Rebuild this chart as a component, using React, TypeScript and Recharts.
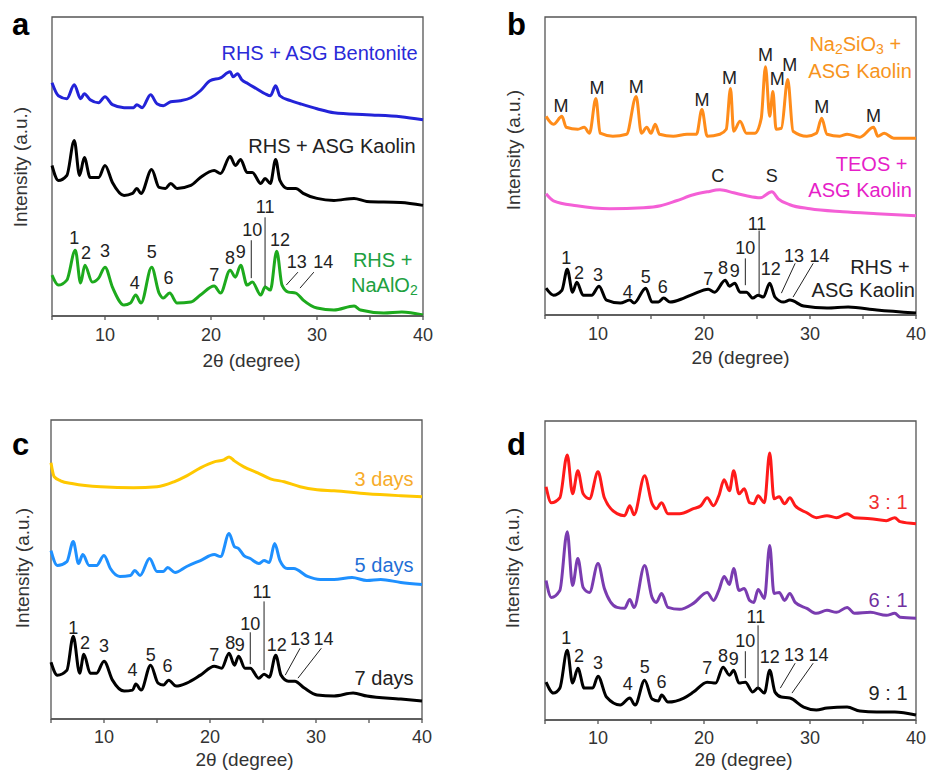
import React from 'react';
import { ComposedChart, Line, Scatter, XAxis, YAxis, ReferenceLine, ReferenceArea, Customized } from 'recharts';

const FONT = 'Arial, "Liberation Sans", sans-serif';
const xTicks = [5, 10, 15, 20, 25, 30, 35, 40];

// ---- panel a : [2theta, intensity (offset)]
const aBentonite = [
  [5, 234], [5.6, 221], [6.4, 218], [7.1, 232], [7.7, 218], [8.05, 223], [8.6, 217], [9.4, 214], [10, 220],
  [10.7, 212], [11.8, 209], [12.7, 209], [13, 212], [13.5, 209], [14.3, 222], [14.9, 213], [15.5, 211],
  [16.2, 215], [17.1, 216], [18.1, 219], [19, 226], [19.9, 236], [20.9, 239], [21.8, 245], [22.1, 240],
  [22.5, 243], [22.9, 237], [23.5, 233], [24.3, 228], [25.1, 223], [25.6, 221], [26.1, 231], [26.5, 221],
  [27.5, 216], [28.4, 213], [30, 208], [31.6, 204], [34.7, 202], [37.9, 200], [40, 197],
];
const aKaolin = [
  [5, 151], [5.6, 136], [6.4, 141], [7.1, 176], [7.6, 141], [8.05, 159], [8.6, 139], [9.4, 139], [10, 151],
  [10.7, 134], [11.8, 121], [12.6, 123], [13, 128], [13.4, 123], [14.4, 147], [15.1, 129], [15.7, 128],
  [16.2, 133], [16.8, 128], [18.1, 131], [19, 139], [20.3, 146], [20.9, 143], [21.8, 160], [22.3, 151],
  [22.8, 157], [23.4, 144], [23.9, 144], [24.7, 133], [25.1, 138], [25.6, 133], [26.1, 157], [26.5, 136],
  [27.2, 128], [28, 128], [28.7, 123], [30, 118], [31.6, 116], [33.5, 118], [34.7, 115], [37.9, 114], [40, 111],
];
const aNaAlO2 = [
  [5, 41], [5.6, 31], [6.4, 36], [7.2, 66], [7.7, 33], [8.1, 51], [8.8, 34], [9.4, 38], [10, 49], [10.7, 29],
  [11.8, 11], [12.4, 13], [12.9, 21], [13.4, 13], [14.4, 49], [15.1, 23], [15.5, 18], [16.1, 23], [16.8, 13],
  [18.1, 14], [19, 21], [20.3, 30], [20.9, 23], [21.8, 46], [22.3, 39], [22.8, 51], [23.4, 31], [23.9, 34],
  [24.7, 21], [25.1, 29], [25.6, 26], [26.2, 65], [26.7, 31], [27.3, 24], [28, 23], [28.7, 16], [30, 8],
  [31.6, 6], [33.5, 10], [34.1, 6], [36.3, 3], [38, 4], [40, 1],
];
const aPeaks = [
  [7.1, 78, '1'], [8.2, 63, '2'], [10, 65, '3'], [12.8, 33, '4'], [14.4, 64, '5'], [16, 38, '6'], [20.3, 41, '7'],
  [21.8, 58, '8'], [22.8, 64, '9'], [23.9, 86, '10'], [25.1, 109, '11'], [26.5, 76, '12'], [28.1, 54, '13'], [30.6, 54, '14'],
];
const aLeaders = [
  [23.8, 76, 23.8, 38], [25.1, 99, 25.1, 30], [28.2, 44, 27.1, 31], [29.7, 44, 28.4, 28],
];
const aNames = [
  [39.5, 264, 'RHS + ASG Bentonite', '#2a2ad8'],
  [39.3, 171, 'RHS + ASG Kaolin', '#222222'],
  [39.0, 56, 'RHS +', '#20a040'],
  [39.5, 31, 'NaAlO{2}', '#20a040'],
];

// ---- panel b
const bNa2SiO3 = [
  [5.1, 200], [5.8, 192], [6.6, 200], [7, 189], [8.1, 187], [8.7, 189], [9.2, 183], [9.8, 218], [10.2, 183],
  [11.4, 180], [12.7, 182], [13.6, 220], [14.1, 183], [14.6, 189], [15, 183], [15.4, 192], [15.8, 182],
  [17.1, 180], [18.4, 182], [19.3, 182], [19.8, 207], [20.3, 180], [21.5, 182], [22.1, 187], [22.5, 228],
  [22.8, 185], [23.4, 195], [24, 183], [24.8, 183], [25.4, 198], [25.8, 250], [26.2, 200], [26.5, 225],
  [26.8, 187], [27.3, 188], [27.9, 237], [28.4, 185], [29.7, 180], [30.6, 183], [31.1, 198], [31.6, 182],
  [32.8, 180], [33.5, 182], [34.7, 179], [36, 189], [36.4, 180], [37, 183], [37.9, 178], [40, 178],
];
const bTEOS = [
  [5.1, 122], [5.8, 115], [8, 110], [11.1, 107], [14.3, 108], [15.9, 110], [17.4, 115], [19, 121], [20.3, 124],
  [21.5, 126], [22.8, 123], [24, 120], [25.3, 118], [26.4, 124], [27, 117], [28.1, 111], [30, 107], [33.1, 104],
  [36.3, 102], [40, 100],
];
const bKaolin = [
  [5.1, 27], [5.8, 20], [6.6, 25], [7.1, 46], [7.6, 23], [8, 33], [8.6, 20], [9.4, 20], [10.1, 29], [10.8, 15],
  [12.1, 12], [13, 15], [13.4, 12], [14.5, 27], [15.1, 13], [15.7, 13], [16.2, 17], [16.8, 13], [18.1, 17],
  [19, 21], [20.4, 26], [21, 23], [22, 35], [22.4, 29], [22.9, 32], [23.4, 23], [24, 23], [24.6, 17], [25.1, 20],
  [25.6, 18], [26.2, 32], [26.7, 18], [27.5, 13], [28.1, 15], [29.4, 9], [31.6, 7], [33.6, 8], [36.3, 5], [40, 2],
];
const bPeaks = [
  [7, 57, '1'], [8.2, 42, '2'], [10, 40, '3'], [12.8, 23, '4'], [14.5, 38, '5'], [16.1, 28, '6'], [20.4, 36, '7'],
  [21.8, 47, '8'], [22.9, 44, '9'], [23.9, 67, '10'], [25, 92, '11'], [26.3, 46, '12'], [28.5, 59, '13'], [30.9, 59, '14'],
  [6.5, 210, 'M'], [9.9, 229, 'M'], [13.6, 230, 'M'], [19.8, 216, 'M'], [22.4, 239, 'M'], [25.8, 262, 'M'],
  [26.9, 238, 'M'], [28.1, 252, 'M'], [31.1, 209, 'M'], [36, 200, 'M'], [21.3, 140, 'C'], [26.4, 140, 'S'],
];
const bLeaders = [
  [23.9, 57, 23.9, 30], [25.2, 85, 25.2, 20], [28.6, 52, 27.3, 22], [30.3, 52, 28.4, 18],
];
const bNames = [
  [38.6, 273, 'Na{2}SiO{3} +', '#f7941d'],
  [39.6, 246, 'ASG Kaolin', '#f7941d'],
  [39.2, 152, 'TEOS +', '#e61ec8'],
  [39.6, 126, 'ASG Kaolin', '#e61ec8'],
  [39.4, 48, 'RHS +', '#222222'],
  [39.9, 25, 'ASG Kaolin', '#222222'],
];

// ---- panel c
const c3days = [
  [5, 257], [5.1, 251], [5.3, 243], [5.9, 239], [7.1, 236], [9.7, 233], [12.8, 232], [15, 233], [16.6, 238],
  [17.8, 244], [19.1, 252], [20.4, 258], [21.3, 260], [21.8, 263], [22.3, 259], [23.2, 253], [24.5, 247],
  [25.7, 241], [27, 238], [28.5, 233], [30.1, 230], [31.7, 229], [34.8, 226], [38, 224], [40, 223],
];
const c5days = [
  [5, 169], [5.6, 154], [6.5, 158], [7.1, 178], [7.6, 156], [8, 165], [8.6, 154], [9.3, 154], [10, 164],
  [10.6, 151], [11.5, 143], [12.5, 144], [12.9, 149], [13.4, 144], [14.3, 161], [15, 148], [15.6, 148],
  [16, 152], [16.7, 147], [17.8, 153], [19.1, 159], [20.4, 165], [21, 163], [21.8, 186], [22.3, 173],
  [22.7, 171], [23.2, 164], [23.8, 161], [24.6, 156], [25.1, 159], [25.6, 157], [26.1, 176], [26.6, 159],
  [27.3, 151], [27.9, 151], [29.2, 143], [30.4, 140], [31.7, 140], [33.4, 142], [34.8, 139], [36.1, 140],
  [38, 137], [40, 135],
];
const c7days = [
  [5, 57], [5.6, 44], [6.5, 49], [7.1, 83], [7.7, 46], [8.1, 65], [8.7, 46], [9.3, 46], [10, 58], [10.8, 39],
  [11.9, 28], [12.7, 29], [13, 35], [13.5, 29], [14.4, 54], [15.1, 36], [15.6, 34], [16.1, 39], [16.8, 33],
  [17.8, 36], [19.1, 44], [20.4, 53], [21.1, 51], [21.8, 66], [22.3, 54], [22.7, 63], [23.3, 51], [23.8, 51],
  [24.6, 41], [25.1, 45], [25.6, 42], [26.2, 64], [26.7, 44], [27.4, 38], [28, 38], [28.9, 31], [30.1, 24],
  [31.7, 23], [33.5, 26], [34.8, 23], [38, 20], [40, 18],
];
const cPeaks = [
  [7.1, 91, '1'], [8.2, 76, '2'], [10, 73, '3'], [12.7, 49, '4'], [14.4, 64, '5'], [16, 53, '6'], [20.4, 64, '7'],
  [21.9, 76, '8'], [22.8, 74, '9'], [23.8, 95, '10'], [24.9, 127, '11'], [26.3, 74, '12'], [28.5, 80, '13'], [30.7, 80, '14'],
];
const cLeaders = [
  [23.8, 87, 23.8, 55], [25.1, 118, 25.1, 49], [28.5, 71, 27.1, 44], [30.5, 71, 28.3, 41],
];
const cNames = [
  [39.2, 241, '3 days', '#f7ac2a'],
  [39.2, 155, '5 days', '#1f6fd6'],
  [39.2, 41, '7 days', '#222222'],
];

// ---- panel d
const d31 = [
  [5.1, 234], [5.6, 218], [6.4, 223], [7.1, 266], [7.6, 227], [8.1, 250], [8.6, 227], [9.2, 222], [10, 249],
  [10.6, 223], [11.8, 207], [12.5, 205], [13, 215], [13.4, 206], [14.4, 245], [15.1, 217], [15.5, 212],
  [16, 218], [16.6, 207], [17.7, 207], [19, 212], [19.7, 215], [20.3, 223], [20.9, 215], [21.4, 225],
  [21.9, 241], [22.4, 230], [22.8, 250], [23.3, 227], [23.8, 232], [24.3, 218], [24.7, 217], [25.1, 225],
  [25.7, 218], [26.2, 268], [26.6, 222], [27.1, 224], [27.6, 217], [28.1, 223], [28.6, 215], [29.7, 208],
  [30.6, 203], [31.6, 205], [32.5, 203], [33.5, 207], [34.2, 203], [35.7, 202], [37.2, 200], [38, 203],
  [38.5, 199], [40, 197],
];
const d61 = [
  [5.1, 140], [5.6, 123], [6.4, 130], [7.1, 189], [7.6, 135], [8.1, 162], [8.6, 133], [9.2, 128], [10, 157],
  [10.6, 132], [11.8, 113], [12.5, 112], [13, 121], [13.4, 113], [14.4, 155], [15.1, 123], [15.5, 118],
  [16, 127], [16.6, 113], [17.7, 111], [19, 117], [20.3, 128], [20.9, 120], [21.4, 130], [21.9, 144],
  [22.4, 136], [22.8, 152], [23.3, 130], [23.8, 132], [24.3, 120], [24.7, 118], [25.1, 131], [25.7, 122],
  [26.2, 175], [26.6, 127], [27.1, 128], [27.6, 120], [28.1, 127], [28.6, 118], [29.7, 112], [30.6, 107],
  [31.6, 110], [32.5, 108], [33.5, 113], [34.2, 107], [35.7, 108], [37.2, 105], [38, 107], [38.5, 103], [40, 102],
];
const d91 = [
  [5.1, 38], [5.8, 27], [6.4, 32], [7.1, 70], [7.6, 37], [8.1, 52], [8.7, 32], [9.5, 32], [10, 44], [10.8, 23],
  [12.1, 15], [13, 22], [13.5, 15], [14.4, 40], [15.1, 21], [15.7, 19], [16, 25], [16.6, 18], [18.1, 22],
  [19, 28], [20.3, 38], [21.1, 37], [21.8, 53], [22.4, 45], [22.8, 50], [23.3, 37], [23.9, 38], [24.6, 28],
  [25.1, 32], [25.7, 27], [26.2, 50], [26.7, 28], [27.3, 23], [28.1, 22], [29.4, 13], [30.6, 10], [31.6, 12],
  [33.5, 13], [34.7, 9], [36.3, 8], [38, 8], [40, 5],
];
const dPeaks = [
  [7, 82, '1'], [8.2, 64, '2'], [10, 57, '3'], [12.8, 36, '4'], [14.4, 53, '5'], [16, 38, '6'], [20.3, 52, '7'],
  [21.8, 64, '8'], [22.8, 61, '9'], [23.9, 79, '10'], [24.9, 103, '11'], [26.2, 63, '12'], [28.5, 65, '13'], [30.8, 65, '14'],
];
const dLeaders = [
  [23.9, 69, 23.9, 42], [25.1, 95, 25.1, 32], [28.6, 57, 27.2, 32], [30.3, 57, 28.3, 27],
];
const dNames = [
  [39.2, 219, '3 : 1', '#f03030'],
  [39.2, 120, '6 : 1', '#7030a0'],
  [39.2, 27, '9 : 1', '#222222'],
];

const toPts = (arr: number[][]) => arr.map(([x, y]) => ({ x, y }));

// "Na{2}SiO{3}" -> subscripts
const renderRich = (s: string) => {
  const parts = s.split(/(\{[^}]*\})/).filter(Boolean);
  let down = false;
  return parts.map((p, i) => {
    if (p.startsWith('{')) {
      down = true;
      return <tspan key={i} dy={5} fontSize="0.7em">{p.slice(1, -1)}</tspan>;
    }
    const dy = down ? -5 : 0;
    down = false;
    return <tspan key={i} dy={dy}>{p}</tspan>;
  });
};

const TextMark = (props: any) => {
  const { cx, cy, payload } = props;
  return (
    <text x={cx} y={cy} textAnchor={payload.anchor} dominantBaseline="central"
      fill={payload.color} fontSize={payload.size} fontFamily={FONT}>
      {renderRich(payload.t)}
    </text>
  );
};

type Series = { pts: number[][]; color: string };

type PanelProps = {
  letter: string; left: number; top: number; width: number; height: number;
  margin: { top: number; left: number; right: number; bottom: number };
  axisH: number; tickMargin: number; titleOffset: number; titleDx: number;
  yTitle: [number, number]; letterPos: [number, number];
  series: Series[]; peaks: any[][]; leaders: number[][]; names: any[][];
};

const Panel = (p: PanelProps) => {
  const marks = [
    ...p.peaks.map(([x, y, t]) => ({ x, y, t, anchor: 'middle', color: '#222', size: 18 })),
    ...p.names.map(([x, y, t, color]) => ({ x, y, t, anchor: 'end', color, size: 20 })),
  ];
  return (
    <div style={{ position: 'absolute', left: p.left, top: p.top }}>
      <ComposedChart width={p.width} height={p.height} margin={p.margin}>
        <ReferenceArea x1={5} x2={40} y1={0} y2={300} fill="none" stroke="#555" strokeWidth={1.3} fillOpacity={0} />
        <XAxis dataKey="x" type="number" domain={[5, 40]} ticks={xTicks} interval={0}
          tickFormatter={(v: number) => (v % 10 === 0 ? String(v) : '')}
          axisLine={{ stroke: '#555', strokeWidth: 1.3 }} tickLine={{ stroke: '#555', strokeWidth: 1.3 }}
          tickSize={4} tickMargin={p.tickMargin} height={p.axisH}
          tick={{ fill: '#333', fontSize: 18, fontFamily: FONT }}
          label={{ value: '2θ (degree)', position: 'insideBottom', offset: p.titleOffset, dx: p.titleDx,
            fill: '#333', fontSize: 19, fontFamily: FONT }} />
        <YAxis type="number" domain={[0, 300]} hide />
        {p.series.map((s, i) => (
          <Line key={i} data={toPts(s.pts)} dataKey="y" type="monotoneX" stroke={s.color} strokeWidth={3}
            dot={false} isAnimationActive={false} />
        ))}
        {p.leaders.map(([x1, y1, x2, y2], i) => (
          <ReferenceLine key={'l' + i} segment={[{ x: x1, y: y1 }, { x: x2, y: y2 }]} stroke="#222" strokeWidth={1} />
        ))}
        <Scatter data={marks} dataKey="y" shape={TextMark} isAnimationActive={false} />
        <Customized component={() => (
          <g fontFamily={FONT}>
            <text transform={`translate(${p.yTitle[0]},${p.yTitle[1]}) rotate(-90)`} textAnchor="middle"
              dominantBaseline="central" fontSize={19} fill="#333">Intensity (a.u.)</text>
            <text x={p.letterPos[0]} y={p.letterPos[1]} fontSize={31} fontWeight="bold" fill="#000">{p.letter}</text>
          </g>
        )} />
      </ComposedChart>
    </div>
  );
};

export default function App() {
  return (
    <div style={{ position: 'absolute', left: 0, top: 0, width: 927, height: 771, background: '#fff', overflow: 'hidden' }}>
      <Panel letter="a" left={0} top={0} width={460} height={380}
        margin={{ top: 17, left: 52, right: 37, bottom: 0 }} axisH={64} tickMargin={8} titleOffset={13} titleDx={14}
        yTitle={[20, 167]} letterPos={[12, 35]}
        series={[{ pts: aBentonite, color: '#2323d8' }, { pts: aKaolin, color: '#000' }, { pts: aNaAlO2, color: '#1daa1d' }]}
        peaks={aPeaks} leaders={aLeaders} names={aNames} />
      <Panel letter="b" left={460} top={0} width={467} height={380}
        margin={{ top: 17, left: 85, right: 11, bottom: 0 }} axisH={65} tickMargin={8} titleOffset={16} titleDx={10}
        yTitle={[53, 150]} letterPos={[47, 35]}
        series={[{ pts: bNa2SiO3, color: '#ff8c1a' }, { pts: bTEOS, color: '#f45fd6' }, { pts: bKaolin, color: '#000' }]}
        peaks={bPeaks} leaders={bLeaders} names={bNames} />
      <Panel letter="c" left={0} top={380} width={460} height={391}
        margin={{ top: 40, left: 51, right: 38, bottom: 0 }} axisH={52} tickMargin={7} titleOffset={5} titleDx={8}
        yTitle={[22, 188]} letterPos={[12, 75]}
        series={[{ pts: c3days, color: '#ffc800' }, { pts: c5days, color: '#1e90ff' }, { pts: c7days, color: '#000' }]}
        peaks={cPeaks} leaders={cLeaders} names={cNames} />
      <Panel letter="d" left={460} top={380} width={467} height={391}
        margin={{ top: 41, left: 85, right: 11, bottom: 0 }} axisH={51} tickMargin={7} titleOffset={5} titleDx={13}
        yTitle={[52, 188]} letterPos={[47, 75]}
        series={[{ pts: d31, color: '#ff1a1a' }, { pts: d61, color: '#7a3cb0' }, { pts: d91, color: '#000' }]}
        peaks={dPeaks} leaders={dLeaders} names={dNames} />
    </div>
  );
}
